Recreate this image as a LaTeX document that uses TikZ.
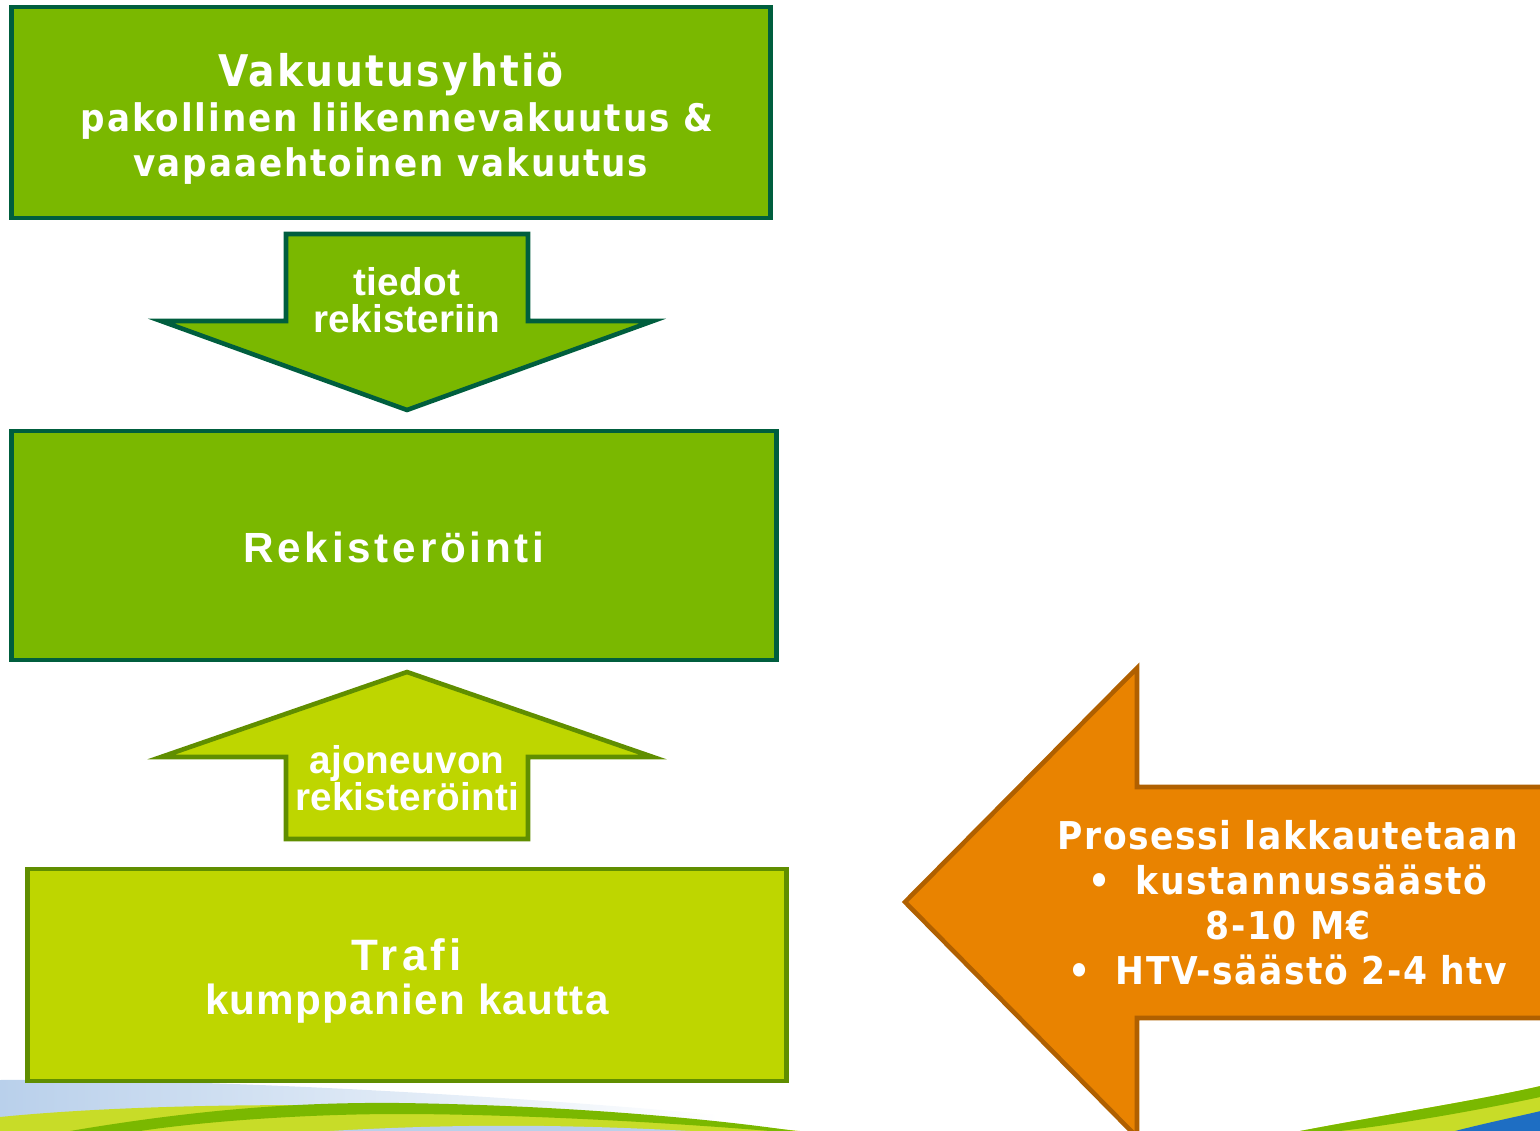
\documentclass[tikz,border=0pt]{standalone}
\usepackage{fontspec}
\newfontfamily\tahf{DejaVu Sans}[FakeStretch=0.9, LetterSpace=5]
\newfontfamily\tahof{DejaVu Sans}[FakeStretch=0.9, LetterSpace=4]
\newfontfamily\arf{Liberation Sans}[LetterSpace=9]
\newfontfamily\artf{Liberation Sans}[LetterSpace=3]
\newfontfamily\arttf{Liberation Sans}[LetterSpace=10]
\newfontfamily\arnf{Liberation Sans}[LetterSpace=0.5]
\definecolor{gmain}{RGB}{122,184,0}
\definecolor{gdark}{RGB}{0,94,62}
\definecolor{glight}{RGB}{190,214,0}
\definecolor{gledge}{RGB}{96,142,0}
\definecolor{orfill}{RGB}{233,131,0}
\definecolor{oredge}{RGB}{176,96,0}
\definecolor{swyel}{RGB}{200,220,40}
\definecolor{swblue}{RGB}{30,110,195}
\definecolor{swhaze}{RGB}{185,208,235}
\tikzset{
  darkbox/.style={draw=gdark, fill=gmain, line width=1.3pt, inner sep=0pt},
  lightbox/.style={draw=gledge, fill=glight, line width=1.3pt, inner sep=0pt},
  darkarrow/.style={draw=gdark, fill=gmain, line width=1.3pt, line join=miter},
  lightarrow/.style={draw=gledge, fill=glight, line width=1.3pt, line join=miter},
  orarrow/.style={draw=oredge, fill=orfill, line width=1.3pt, line join=miter},
  wtext/.style={text=white, align=center, inner sep=0pt}
}
\begin{document}
\begin{tikzpicture}[x=0.01cm, y=-0.01cm]
\useasboundingbox (0,0) rectangle (1540,1131);
\clip (0,0) rectangle (1540,1131);
% bottom swoosh, left
\shade[left color=swhaze, right color=white] (0,1080) .. controls (200,1078) and (500,1095) .. (720,1115) -- (720,1131) -- (0,1131) -- cycle;
\fill[swyel] (0,1117) .. controls (150,1102) and (450,1096) .. (800,1131) -- (0,1131) -- cycle;
\fill[swhaze] (330,1131) .. controls (450,1124) and (560,1124) .. (690,1131) -- cycle;
\fill[gmain] (70,1131) .. controls (200,1109) and (300,1102) .. (400,1103) .. controls (550,1105) and (700,1117) .. (795,1131) -- (770,1131) .. controls (650,1121) and (500,1114) .. (400,1114) .. controls (300,1114) and (200,1122) .. (140,1131) -- cycle;
% bottom swoosh, right
\fill[swyel] (1300,1131) .. controls (1400,1112) and (1480,1100) .. (1545,1085) -- (1545,1131) -- cycle;
\fill[gmain] (1300,1131) .. controls (1400,1112) and (1480,1100) .. (1545,1085) -- (1545,1096) .. controls (1480,1110) and (1400,1124) .. (1340,1131) -- cycle;
\fill[swblue] (1455,1131) .. controls (1490,1122) and (1520,1116) .. (1545,1110) -- (1545,1131) -- cycle;

% boxes
\node[darkbox, minimum width=7.58cm, minimum height=2.11cm] (vak) at (391,112.5) {};
\node[darkbox, minimum width=7.64cm, minimum height=2.29cm] (rek) at (394,545.5) {};
\node[lightbox, minimum width=7.58cm, minimum height=2.12cm] (trafi) at (407,975) {};

% block arrows
\draw[darkarrow] (286,234) -- (528,234) -- (528,321) -- (653,321) -- (407,410) -- (161,321) -- (286,321) -- cycle;
\draw[lightarrow] (407,672) -- (653,757) -- (528,757) -- (528,839) -- (286,839) -- (286,757) -- (161,757) -- cycle;
\draw[orarrow] (905,902) -- (1137,668) -- (1137,787) -- (1570,787) -- (1570,1018) -- (1137,1018) -- (1137,1137) -- cycle;

% texts
\node[wtext, font=\tahf\bfseries\fontsize{10.8}{12.8}\selectfont] (vakt) at (vak.center) [yshift=-0.06cm]
  {{\fontsize{12.4}{12.8}\selectfont Vakuutusyhtiö}\\\hspace*{0.12cm}pakollinen liikennevakuutus \&\\vapaaehtoinen vakuutus};
\node[wtext, font=\arnf\bfseries\fontsize{11}{10.5}\selectfont] (tiedot) at (407,300.5) {tiedot\\rekisteriin};
\node[wtext, font=\arf\bfseries\fontsize{12}{14}\selectfont] (rekt) at (394,547) {Rekisteröinti};
\node[wtext, font=\arnf\bfseries\fontsize{11}{10.5}\selectfont] (ajon) at (407,778.5) {ajoneuvon\\rekisteröinti};
\node[wtext, font=\artf\bfseries\fontsize{12}{12.3}\selectfont] (trafit) at (407,981)
  {{\arttf\fontsize{12.5}{12.3}\selectfont Trafi}\\kumppanien kautta};
\node[wtext, font=\tahof\bfseries\fontsize{10.9}{12.8}\selectfont] (pros) at (1288,903)
  {Prosessi lakkautetaan\\• \hspace{0.3em}kustannussäästö\\8-10 M€\\• \hspace{0.3em}HTV-säästö 2-4 htv};
\end{tikzpicture}
\end{document}
